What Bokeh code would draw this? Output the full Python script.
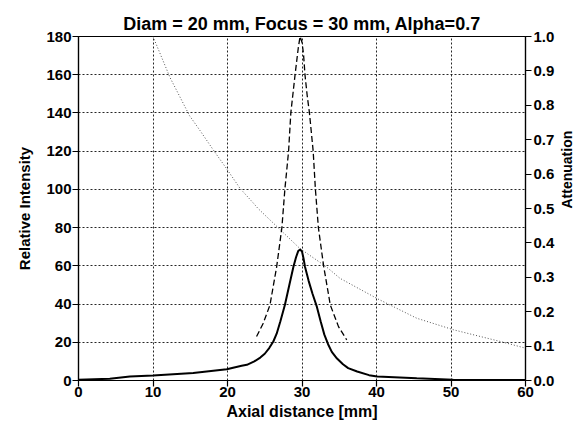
import math
from bokeh.plotting import figure
from bokeh.models import Range1d, LinearAxis, FixedTicker
from bokeh.embed import file_html
from bokeh.resources import INLINE

title_text = "Diam = 20 mm, Focus = 30 mm, Alpha=0.7"
x_label = "Axial distance [mm]"
y_label = "Relative Intensity"
y2_label = "Attenuation"

x_ticks = [0, 10, 20, 30, 40, 50, 60]
y_ticks = [0, 20, 40, 60, 80, 100, 120, 140, 160, 180]
att_ticks = [0.0, 0.1, 0.2, 0.3, 0.4, 0.5, 0.6, 0.7, 0.8, 0.9, 1.0]
att_tick_labels = ["0.0", "0.1", "0.2", "0.3", "0.4", "0.5", "0.6", "0.7", "0.8", "0.9", "1.0"]

# Solid curve: relative intensity with attenuation
solid_x = [0, 4.2, 6.9, 10, 15.4, 19.9, 21.9, 22.6, 23.6, 24.4, 25.0, 25.6, 26.15, 26.6, 27.1,
           27.7, 28.3, 28.85, 29.2, 29.5, 29.74, 30.0, 30.2, 30.4, 30.9, 31.4, 32.0, 32.5,
           33.0, 33.5, 34.0, 34.7, 35.5, 36.2, 37.4, 39.0, 40.1, 45.4, 50.3, 55, 60]
solid_y = [0.4, 0.9, 2.1, 2.6, 3.9, 5.9, 7.7, 8.2, 10.0, 12.0, 14.0, 17.0, 20.4, 24.5, 31.0,
           39.5, 50.0, 59.5, 64.5, 67.8, 68.6, 67.5, 64.0, 59.5, 52.0, 45.5, 38.5, 31.0,
           24.0, 19.0, 15.0, 11.5, 8.5, 6.5, 4.7, 2.8, 2.1, 1.2, 0.4, 0.3, 0.2]

# Dashed curve: relative intensity without attenuation
dash_x = [23.9, 24.8, 25.7, 26.6, 27.3, 27.7, 28.2, 28.5, 29.07, 29.5, 29.74,
          30.0, 30.2, 30.4, 30.7, 31.0, 31.5, 31.8, 32.2, 32.9, 33.8, 34.9, 36.0]
dash_y = [23, 30, 39.5, 59.5, 80, 100, 120, 140, 160, 174, 180,
          177, 171, 160, 149, 140, 120, 100, 80, 60, 39.5, 28.2, 21.3]

# Dotted curve: attenuation (right axis)
att_x = [10, 12.3, 14.9, 16.3, 18.1, 19.9, 21.7, 23.5, 24.1, 26.9, 29.7, 33.3, 35.1,
         40.1, 45.4, 50.4, 56.7, 60]
att_y = [1.0, 0.88, 0.77, 0.727, 0.67, 0.615, 0.558, 0.515, 0.50, 0.442, 0.384, 0.33, 0.297,
         0.238, 0.181, 0.147, 0.113, 0.094]

FONT = "Liberation Sans"

p = figure(frame_width=447, frame_height=344,
           x_range=Range1d(0, 60), y_range=Range1d(0, 180),
           output_backend="svg", toolbar_location=None,
           min_border_left=78, min_border_right=54,
           min_border_top=36, min_border_bottom=38)
p.title.text = title_text
p.title.align = "center"
p.title.text_font = FONT
p.title.text_font_size = "18px"
p.title.text_font_style = "bold"
p.title.text_color = "black"
p.title.standoff = 6

p.extra_y_ranges = {"att": Range1d(0, 1)}

p.background_fill_color = "white"
p.border_fill_color = "white"
p.outline_line_color = "black"
p.outline_line_width = 1.2

for g in (p.xgrid, p.ygrid):
    g.grid_line_color = "black"
    g.grid_line_dash = "2 2"
    g.grid_line_width = 1
    g.grid_line_alpha = 0.85
p.xgrid.ticker = FixedTicker(ticks=x_ticks)
p.ygrid.ticker = FixedTicker(ticks=y_ticks)

def style_axis(ax, label_size):
    ax.axis_line_color = "black"
    ax.axis_line_width = 1.2
    ax.major_tick_line_color = "black"
    ax.major_tick_line_width = 1.2
    ax.major_tick_out = 6
    ax.major_tick_in = 0
    ax.minor_tick_line_color = None
    ax.major_label_text_font = FONT
    ax.major_label_text_font_size = "15px"
    ax.major_label_text_font_style = "bold"
    ax.major_label_text_color = "black"
    ax.axis_label_text_font = FONT
    ax.axis_label_text_font_size = label_size
    ax.axis_label_text_font_style = "bold"
    ax.axis_label_text_color = "black"

xa = p.xaxis[0]
xa.ticker = FixedTicker(ticks=x_ticks)
xa.axis_label = x_label
style_axis(xa, "16px")
xa.major_label_standoff = 0
xa.axis_label_standoff = 3

ya = p.yaxis[0]
ya.ticker = FixedTicker(ticks=y_ticks)
ya.axis_label = y_label
style_axis(ya, "15px")
ya.major_label_standoff = 1
ya.axis_label_standoff = 10

ra = LinearAxis(y_range_name="att", ticker=FixedTicker(ticks=att_ticks),
                axis_label=y2_label)
ra.major_label_overrides = {t: l for t, l in zip(att_ticks, att_tick_labels)}
style_axis(ra, "14px")
ra.major_label_standoff = 2
ra.axis_label_standoff = 10
ra.axis_label_orientation = math.pi / 2
ra.axis_label_text_align = "center"
p.add_layout(ra, "right")

p.line(att_x, att_y, y_range_name="att", line_color="#555555", line_width=1,
       line_dash="1 2")
p.line(dash_x, dash_y, line_color="black", line_width=1.3, line_dash="6 3")
p.line(solid_x, solid_y, line_color="black", line_width=2)

open("out.html", "w").write(file_html(p, INLINE))
